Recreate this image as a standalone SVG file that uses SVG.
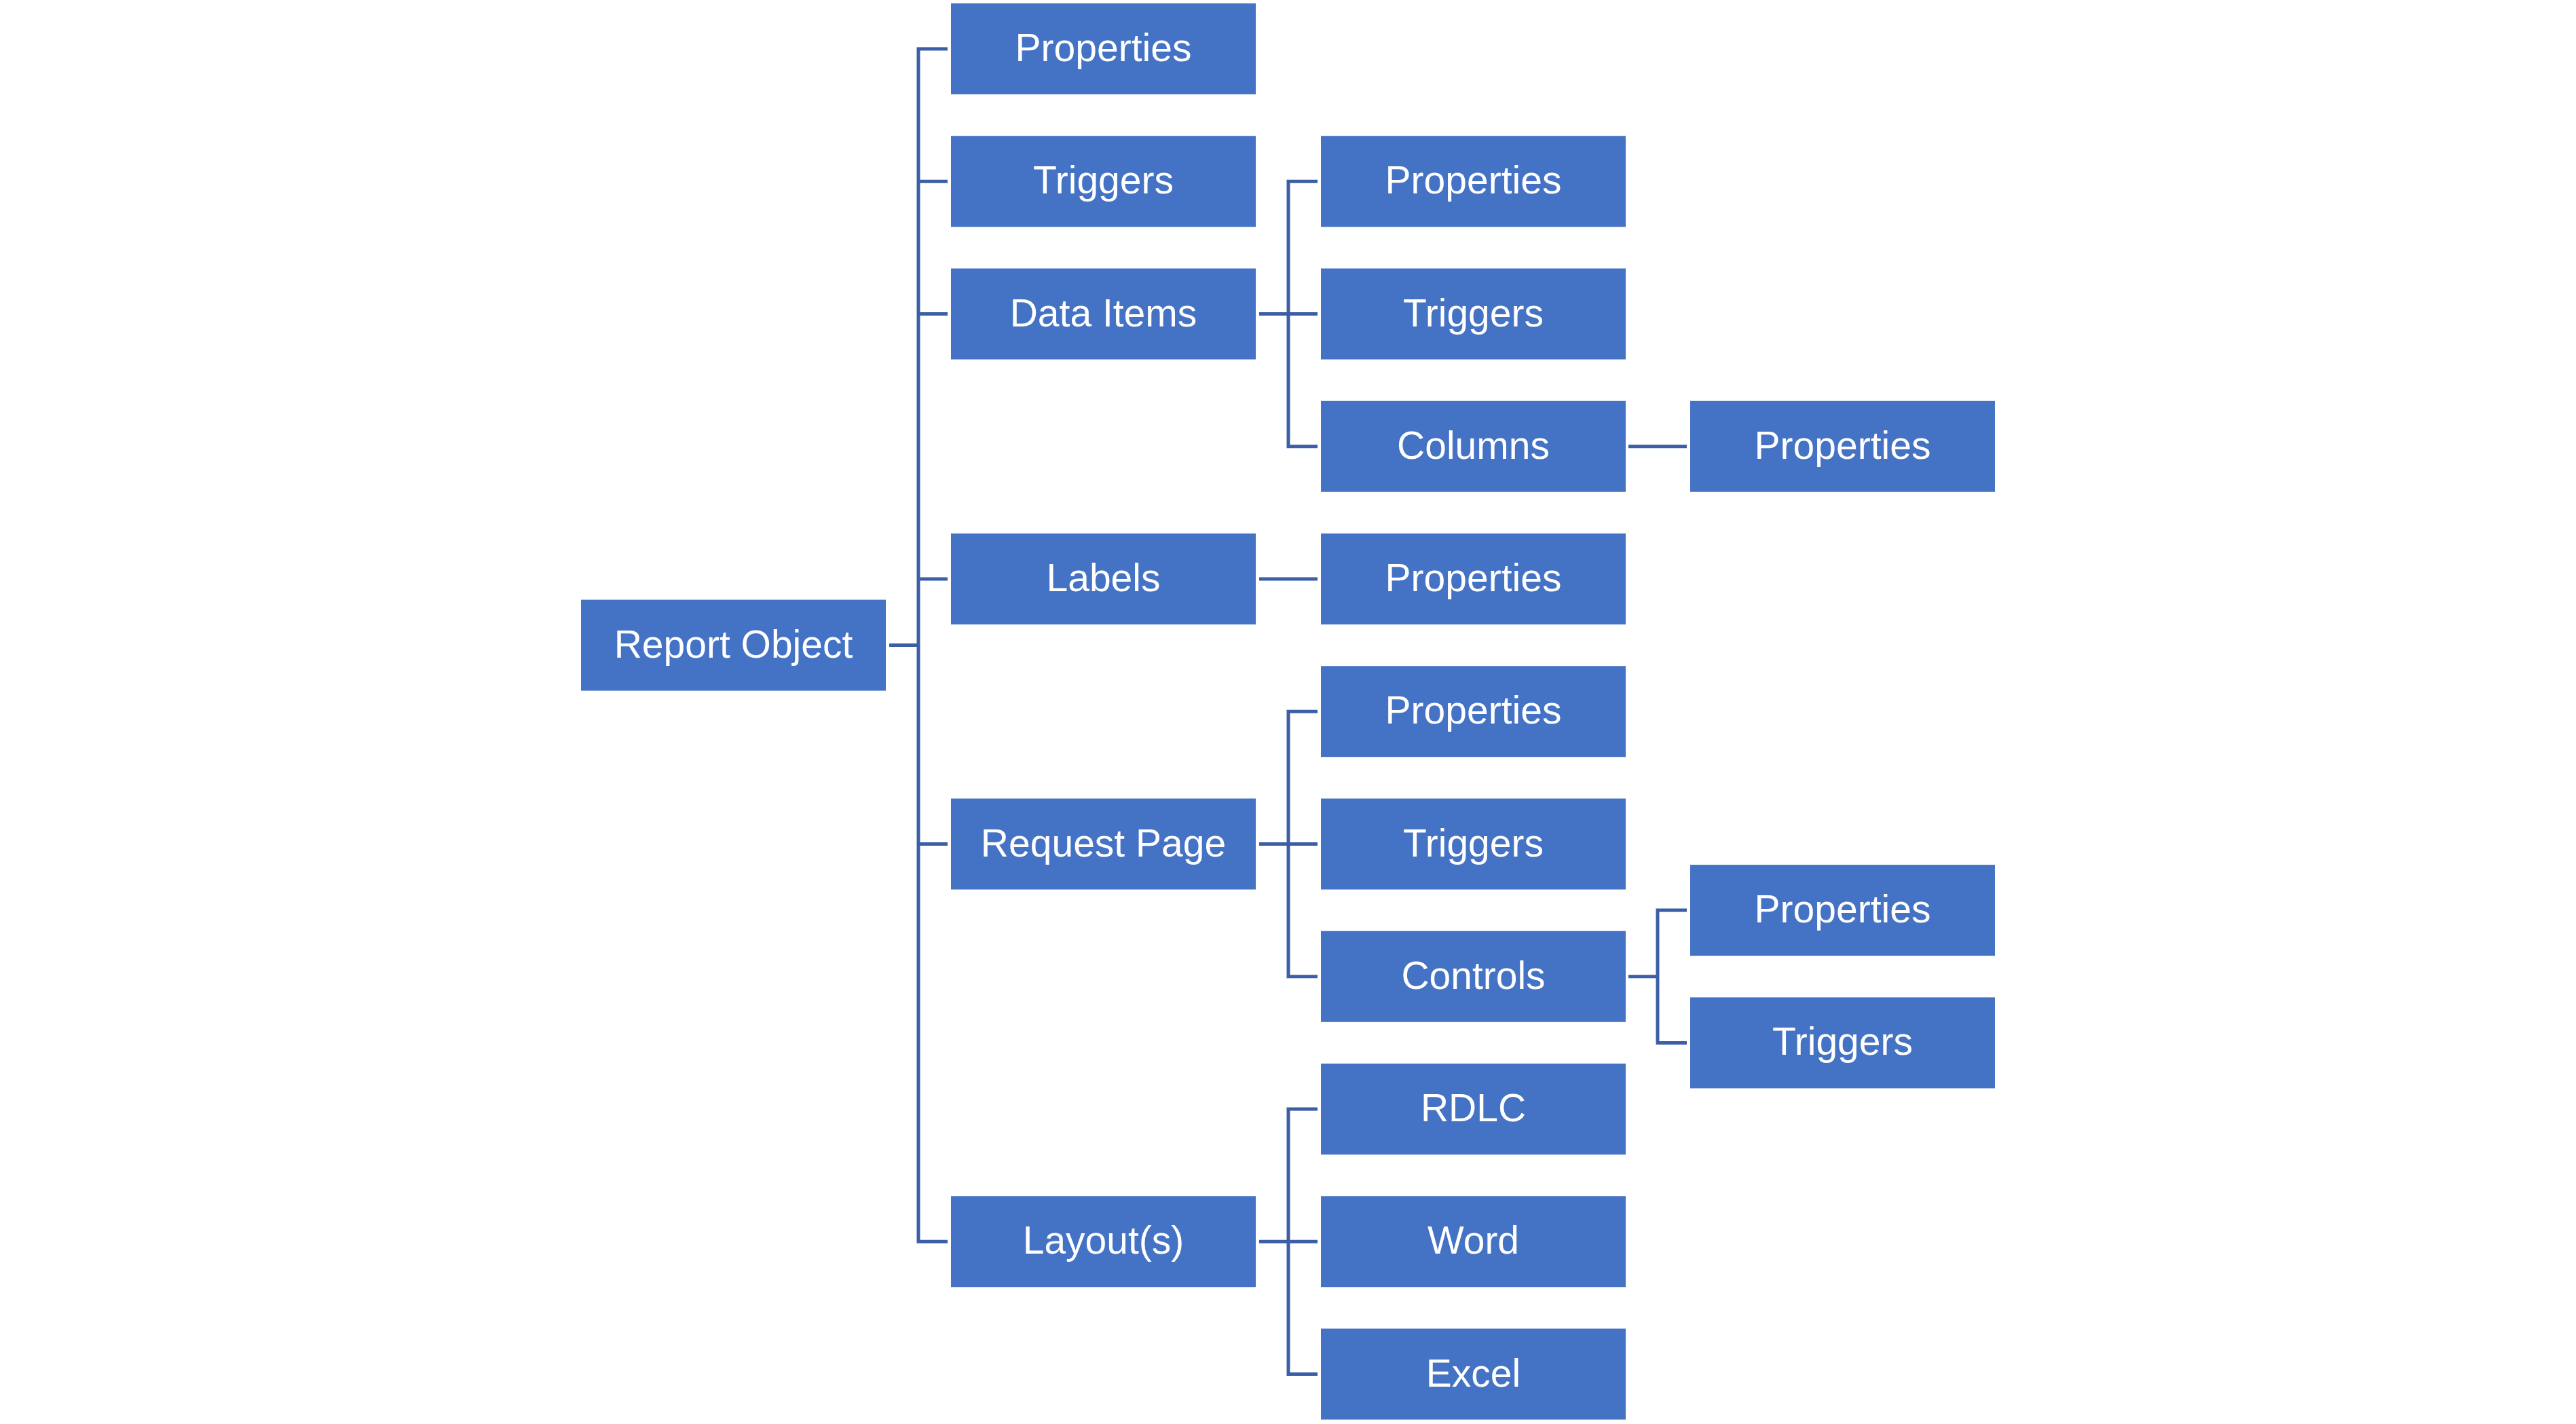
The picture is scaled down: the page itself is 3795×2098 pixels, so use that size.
<svg xmlns="http://www.w3.org/2000/svg" width="3795" height="2098" viewBox="0 0 3795 2098">
<style>
.box{fill:#4472C4}
.lbl{font-family:"Liberation Sans",Arial,sans-serif;font-size:57px;fill:#FFFFFF;text-anchor:middle}
.con{fill:none;stroke:#3B5EA6;stroke-width:5}
</style>
<rect width="3795" height="2098" fill="#FFFFFF"/>
<g id="connectors">
<path class="con" d="M1310 950.6 H1353"/>
<path class="con" d="M1396 72 H1353 V1829.25 H1396 M1353 267.25 H1396 M1353 462.5 H1396 M1353 853 H1396 M1353 1243.5 H1396"/>
<path class="con" d="M1855 462.5 H1898 M1941 267.25 H1898 V657.75 H1941 M1898 462.5 H1941"/>
<path class="con" d="M1855 853 H1941"/>
<path class="con" d="M1855 1243.5 H1898 M1941 1048.25 H1898 V1438.75 H1941 M1898 1243.5 H1941"/>
<path class="con" d="M1855 1829.25 H1898 M1941 1634 H1898 V2024.5 H1941 M1898 1829.25 H1941"/>
<path class="con" d="M2399 657.75 H2485"/>
<path class="con" d="M2399 1438.75 H2442 M2485 1341.1 H2442 V1536.4 H2485"/>
</g>
<g id="report-object"><rect class="box" x="856" y="883.6" width="449" height="134"/><text class="lbl" x="1080.5" y="968.6">Report Object</text></g>
<g id="properties"><rect class="box" x="1401" y="5" width="449" height="134"/><text class="lbl" x="1625.5" y="90">Properties</text></g>
<g id="triggers"><rect class="box" x="1401" y="200.25" width="449" height="134"/><text class="lbl" x="1625.5" y="285.25">Triggers</text></g>
<g id="data-items"><rect class="box" x="1401" y="395.5" width="449" height="134"/><text class="lbl" x="1625.5" y="480.5">Data Items</text></g>
<g id="labels"><rect class="box" x="1401" y="786" width="449" height="134"/><text class="lbl" x="1625.5" y="871">Labels</text></g>
<g id="request-page"><rect class="box" x="1401" y="1176.5" width="449" height="134"/><text class="lbl" x="1625.5" y="1261.5">Request Page</text></g>
<g id="layouts"><rect class="box" x="1401" y="1762.25" width="449" height="134"/><text class="lbl" x="1625.5" y="1847.25">Layout(s)</text></g>
<g id="di-properties"><rect class="box" x="1946" y="200.25" width="449" height="134"/><text class="lbl" x="2170.5" y="285.25">Properties</text></g>
<g id="di-triggers"><rect class="box" x="1946" y="395.5" width="449" height="134"/><text class="lbl" x="2170.5" y="480.5">Triggers</text></g>
<g id="columns"><rect class="box" x="1946" y="590.75" width="449" height="134"/><text class="lbl" x="2170.5" y="675.75">Columns</text></g>
<g id="labels-properties"><rect class="box" x="1946" y="786" width="449" height="134"/><text class="lbl" x="2170.5" y="871">Properties</text></g>
<g id="rp-properties"><rect class="box" x="1946" y="981.25" width="449" height="134"/><text class="lbl" x="2170.5" y="1066.25">Properties</text></g>
<g id="rp-triggers"><rect class="box" x="1946" y="1176.5" width="449" height="134"/><text class="lbl" x="2170.5" y="1261.5">Triggers</text></g>
<g id="controls"><rect class="box" x="1946" y="1371.75" width="449" height="134"/><text class="lbl" x="2170.5" y="1456.75">Controls</text></g>
<g id="rdlc"><rect class="box" x="1946" y="1567" width="449" height="134"/><text class="lbl" x="2170.5" y="1652">RDLC</text></g>
<g id="word"><rect class="box" x="1946" y="1762.25" width="449" height="134"/><text class="lbl" x="2170.5" y="1847.25">Word</text></g>
<g id="excel"><rect class="box" x="1946" y="1957.5" width="449" height="134"/><text class="lbl" x="2170.5" y="2042.5">Excel</text></g>
<g id="columns-properties"><rect class="box" x="2490" y="590.75" width="449" height="134"/><text class="lbl" x="2714.5" y="675.75">Properties</text></g>
<g id="controls-properties"><rect class="box" x="2490" y="1274.1" width="449" height="134"/><text class="lbl" x="2714.5" y="1359.1">Properties</text></g>
<g id="controls-triggers"><rect class="box" x="2490" y="1469.4" width="449" height="134"/><text class="lbl" x="2714.5" y="1554.4">Triggers</text></g>
</svg>
